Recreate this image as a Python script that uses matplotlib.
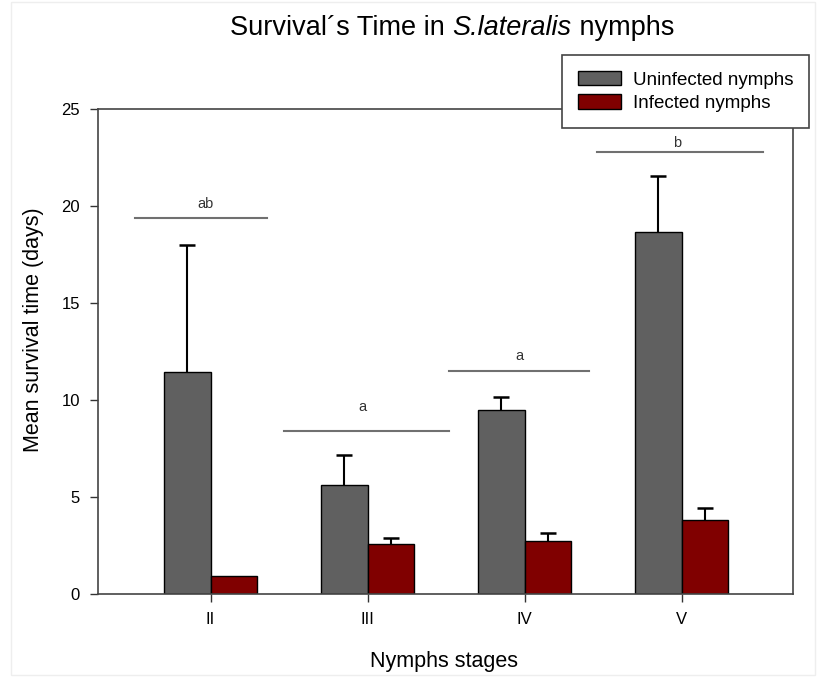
import matplotlib
matplotlib.use("Agg")
import matplotlib.pyplot as plt
import numpy as np
from matplotlib.patches import Rectangle

stages = ["II", "III", "IV", "V"]
uninfected = [11.45, 5.6, 9.5, 18.65]
uninfected_err = [6.55, 1.55, 0.68, 2.88]
infected = [0.95, 2.57, 2.74, 3.84]
infected_err = [0.0, 0.34, 0.43, 0.57]

groups = ["ab", "a", "a", "b"]
group_line_y = [19.4, 8.4, 11.5, 22.8]
group_text_y = [19.75, 9.3, 11.9, 22.9]

FONT = "Liberation Sans"
fig = plt.figure(figsize=(8.17, 6.77), dpi=100)
ax = fig.add_axes([98/817, 1-594/677, (793-98)/817, (594-109)/677])

x = np.arange(len(stages))
w = 0.295
ax.bar(x - w/2, uninfected, w, color="#606060", edgecolor="black", linewidth=1.0,
       label="Uninfected nymphs", zorder=2)
ax.bar(x + w/2, infected, w, color="#800000", edgecolor="black", linewidth=1.0,
       label="Infected nymphs", zorder=2)

def upper_err(xs, ys, es):
    xs = np.asarray(xs); ys = np.asarray(ys); es = np.asarray(es)
    m = es > 0
    _, caps, _ = ax.errorbar(xs[m], ys[m], yerr=[np.zeros(m.sum()), es[m]], fmt="none",
                             ecolor="black", elinewidth=1.5, capsize=5.5, capthick=1.8, zorder=3)
    if len(caps) >= 2:
        caps[0].set_visible(False)

upper_err(x - w/2, uninfected, uninfected_err)
upper_err(x + w/2, infected, infected_err)

spans = [(-0.48, 0.36), (0.47, 1.52), (1.52, 2.41), (2.46, 3.52)]
for i, (g, ly, ty) in enumerate(zip(groups, group_line_y, group_text_y)):
    ax.plot(list(spans[i]), [ly, ly], color="#707070", lw=1.5, zorder=2)
    ax.text(i - 0.03, ty, g, ha="center", va="bottom", fontsize=10.5,
            family=FONT, color="#333333", zorder=2)

ax.set_xlim(-0.717, 3.71)
ax.set_ylim(0, 25)
ax.set_xticks(x)
ax.set_xticklabels(stages, family=FONT, fontsize=12)
ax.set_yticks([0, 5, 10, 15, 20, 25])
ax.set_yticklabels(["0", "5", "10", "15", "20", "25"], family=FONT, fontsize=12)
ax.tick_params(axis="both", direction="out", length=6, width=1, color="#333333", pad=7)
for s in ax.spines.values():
    s.set_color("#444444")
    s.set_linewidth(1.2)

ax.set_ylabel("Mean survival time (days)", family=FONT, fontsize=15.5)
ax.yaxis.set_label_coords((44 - 98) / (793 - 98), (594 - 330) / 485)
fig.text(444/817, 1-661/677, "Nymphs stages", family=FONT,
         fontsize=15.5, ha="center", va="center")

leg = ax.legend(loc="upper right", bbox_to_anchor=(809/817, 1-55/677),
                bbox_transform=fig.transFigure, frameon=True, fancybox=False,
                edgecolor="#444444", framealpha=1, prop={"family": FONT, "size": 13.5},
                handlelength=2.3, handleheight=0.8, handletextpad=0.6, borderpad=0.85,
                labelspacing=0.3, borderaxespad=0)
leg.get_frame().set_linewidth(1.2)
leg.set_zorder(10)

# Title with italic part
parts = [("Survival´s Time in ", "normal"), ("S.lateralis", "italic"), (" nymphs", "normal")]
texts = []
for t, st in parts:
    texts.append(fig.text(0, 1-28/677, t, family=FONT, style=st,
                          fontsize=19.5, ha="left", va="center"))
fig.canvas.draw()
r = fig.canvas.get_renderer()
widths = [tx.get_window_extent(r).width for tx in texts]
total = sum(widths)
cx = 452
start = cx - total/2
for tx, wd in zip(texts, widths):
    tx.set_x(start/817)
    start += wd

fig.patches.append(Rectangle((11/817, 2/677), 804/817, 673/677, transform=fig.transFigure,
                             fill=False, edgecolor="#eeeeee", lw=1))

fig.savefig("out.png", dpi=100)
